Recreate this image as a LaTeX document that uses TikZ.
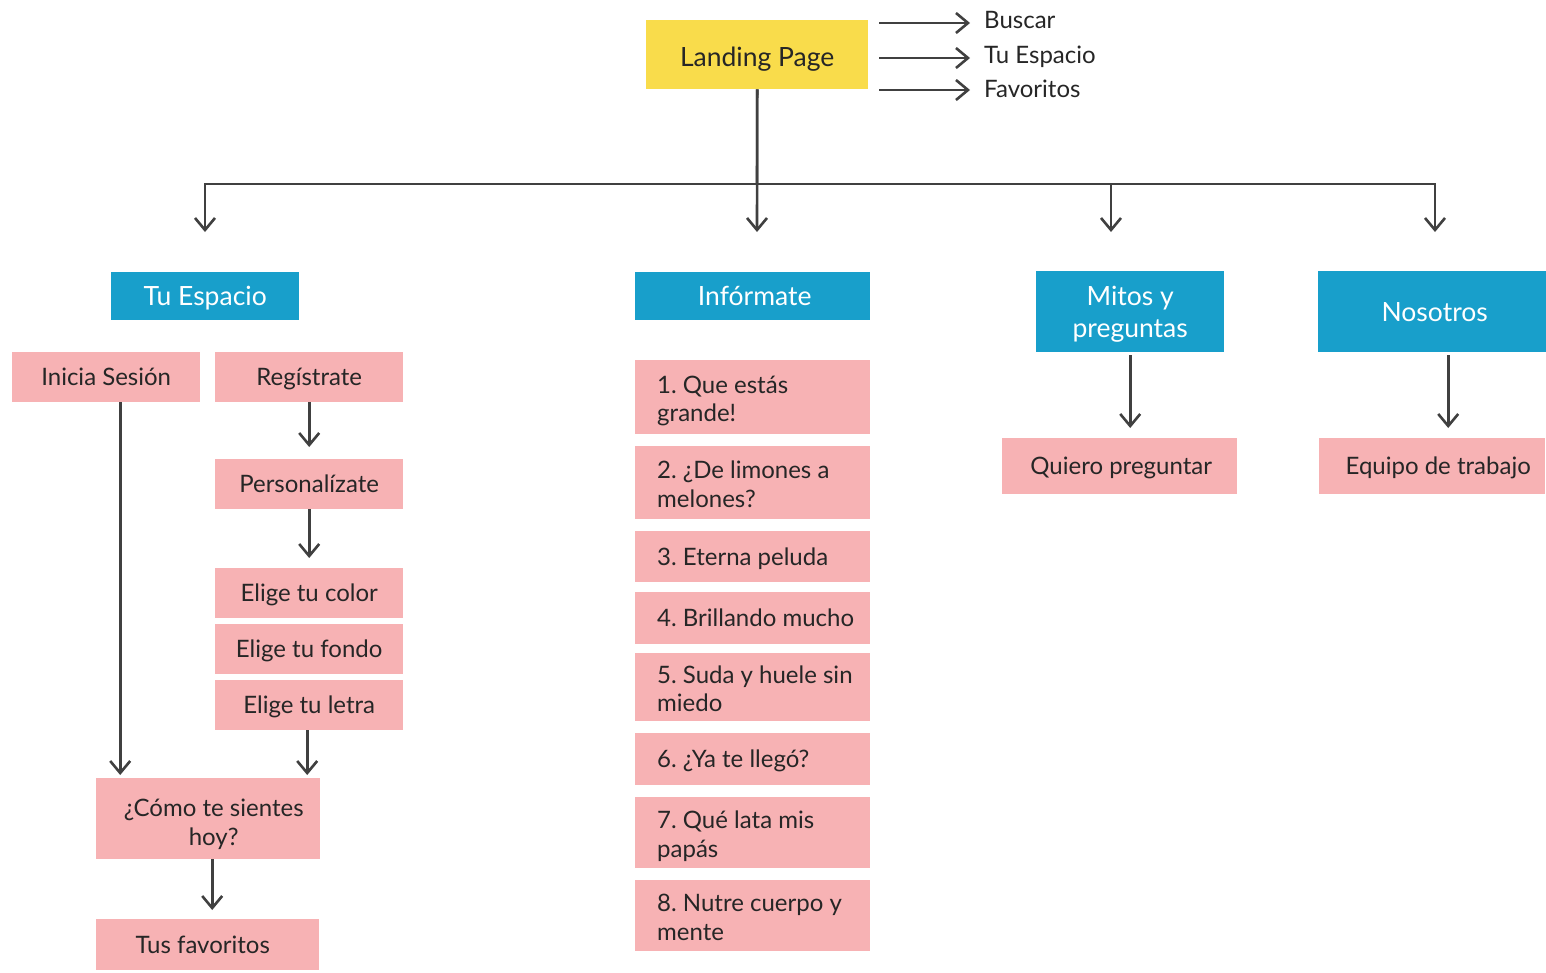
\documentclass[tikz,border=0pt]{standalone}
\usepackage{fontspec}
\setmainfont{Lato}
\frenchspacing
\newcommand\itl[1]{\mbox{\spaceskip=0pt\xspaceskip=0pt\relax #1}}
\usetikzlibrary{arrows.meta}
\definecolor{lpyellow}{HTML}{F9DC4B}
\definecolor{hblue}{HTML}{189FCB}
\definecolor{bpink}{HTML}{F7B2B4}
\definecolor{lgray}{HTML}{404040}
\definecolor{tdark}{HTML}{262626}
\begin{document}
\begin{tikzpicture}[x=1pt,y=-1pt,
  box/.style={inner sep=0pt, text=tdark, font=\fontsize{24}{28.5}\selectfont, align=center, anchor=north west},
  one/.style={text height=#1, text depth=0pt},
  pinkbox/.style={box, fill=bpink},
  hdr/.style={box, fill=hblue, text=white, font=\fontsize{26.5}{32}\selectfont},
  item/.style={pinkbox, align=left, text width=191pt, inner xsep=22pt, minimum width=235pt},
  two/.style={text height=#1, text depth=28.5pt},
  lbl/.style={inner sep=0pt, text=tdark, font=\fontsize{24}{29}\selectfont, anchor=west, one=17.2pt},
  ln/.style={draw=lgray, line width=2.6pt},
  arr/.style={ln, -{Straight Barb[length=12pt,width=20pt]}}]
\useasboundingbox (0,0) rectangle (1546,972);
\fill[white] (0,0) rectangle (1546,972);
% top
\node[box, one=23pt, fill=lpyellow, minimum width=222pt, minimum height=69pt, font=\fontsize{26.5}{32}\selectfont] (lp) at (646,20) {Landing Page};
\node[lbl] (bus) at (984,20) {Buscar};
\node[lbl] (tue) at (984,55) {Tu Espacio};
\node[lbl] (fvt) at (984,89) {Favoritos};
\draw[arr, shorten <=11pt, shorten >=14pt] ([yshift=-3pt]lp.east |- bus.west) -- ([yshift=-3pt]bus.west);
\draw[arr, shorten <=11pt, shorten >=14pt] ([yshift=-3pt]lp.east |- tue.west) -- ([yshift=-3pt]tue.west);
\draw[arr, shorten <=11pt, shorten >=14pt] ([yshift=-1pt]lp.east |- fvt.west) -- ([yshift=-1pt]fvt.west);
% headers
\node[hdr, one=19pt, minimum width=188pt, minimum height=48pt] (te) at (111,272) {Tu Espacio};
\node[hdr, one=19pt, minimum width=235pt, minimum height=48pt] (inf) at (635,272) {\hspace*{4pt}Infórmate};
\node[hdr, text height=51pt, text depth=0pt, minimum width=188pt, minimum height=81pt] (mit) at (1036,271) {Mitos y\\preguntas};
\node[hdr, one=19pt, minimum width=228pt, minimum height=81pt] (nos) at (1318,271) {\hspace*{5pt}Nosotros};
\coordinate (j) at (757,184);
\coordinate (t1) at (205,232);
\coordinate (t2) at (757,232);
\coordinate (t3) at (1111,232);
\coordinate (t4) at (1435,232);
\draw[ln] (lp.south) -- (j);
\draw[arr] (j) -| (t1);
\draw[arr] (lp.south) -- (t2);
\draw[arr] (j) -| (t3);
\draw[arr] (j) -| (t4);
% left column
\node[pinkbox, one=17.2pt, minimum width=188pt, minimum height=50pt] (ini) at (12,352) {Inicia Sesión};
\node[pinkbox, one=17.2pt, minimum width=188pt, minimum height=50pt] (reg) at (215,352) {Regístrate};
\node[pinkbox, one=17.2pt, minimum width=188pt, minimum height=50pt] (per) at (215,459) {Personalízate};
\node[pinkbox, one=17.2pt, minimum width=188pt, minimum height=50pt] (col) at (215,568) {Elige tu color};
\node[pinkbox, one=17.2pt, minimum width=188pt, minimum height=50pt] (fon) at (215,624) {Elige tu fondo};
\node[pinkbox, one=17.2pt, minimum width=188pt, minimum height=50pt] (let) at (215,680) {Elige tu letra};
\node[pinkbox, text height=53.2pt, text depth=0pt, minimum width=224pt, minimum height=81pt] (com) at (96,778) {\hspace*{11pt}¿Cómo te sientes\\\hspace*{11pt}hoy?};
\node[pinkbox, one=17.2pt, minimum width=223pt, minimum height=51pt] (fav) at (96,919) {Tus favoritos\hspace*{10pt}};
\draw[arr, shorten >=3pt] ([xshift=14pt]ini.south) -- ([xshift=14pt]ini.south |- com.north);
\draw[arr, shorten >=12pt] (reg.south) -- (per.north);
\draw[arr, shorten >=10pt] (per.south) -- (col.north);
\draw[arr, shorten >=3pt] ([xshift=-2pt]let.south) -- ([xshift=-2pt]let.south |- com.north);
\draw[arr, shorten >=9pt] ([xshift=4pt]com.south) -- ([xshift=4pt]com.south |- fav.north);
% informate column
\node[item, two=20.5pt, minimum height=74pt] (i1) at (635,360) {\itl{1. Que estás}\\grande!};
\node[item, two=20.5pt, minimum height=73pt] (i2) at (635,446) {\itl{2. ¿De limones a}\\melones?};
\node[item, one=17.2pt, minimum height=51pt] (i3) at (635,531) {\itl{3. Eterna peluda}};
\node[item, one=17.2pt, minimum height=52pt] (i4) at (635,592) {\itl{4. Brillando mucho}};
\node[item, two=20.5pt, minimum height=68pt] (i5) at (635,653) {\itl{5. Suda y huele sin}\\miedo};
\node[item, one=17.2pt, minimum height=52pt] (i6) at (635,733) {\itl{6. ¿Ya te llegó?}};
\node[item, two=20.5pt, minimum height=71pt] (i7) at (635,797) {\itl{7. Qué lata mis}\\papás};
\node[item, two=20.5pt, minimum height=71pt] (i8) at (635,880) {\itl{8. Nutre cuerpo y}\\mente};
% right
\node[pinkbox, one=17.2pt, minimum width=235pt, minimum height=56pt] (qp) at (1002,438) {\hspace*{3pt}Quiero preguntar};
\node[pinkbox, one=17.2pt, minimum width=226pt, minimum height=56pt] (eq) at (1319,438) {\hspace*{12pt}Equipo de trabajo};
\draw[arr, shorten <=3pt, shorten >=10pt] (mit.south) -- (mit.south |- qp.north);
\draw[arr, shorten <=3pt, shorten >=10pt] ([xshift=16pt]nos.south) -- ([xshift=16pt]nos.south |- eq.north);
\end{tikzpicture}
\end{document}
